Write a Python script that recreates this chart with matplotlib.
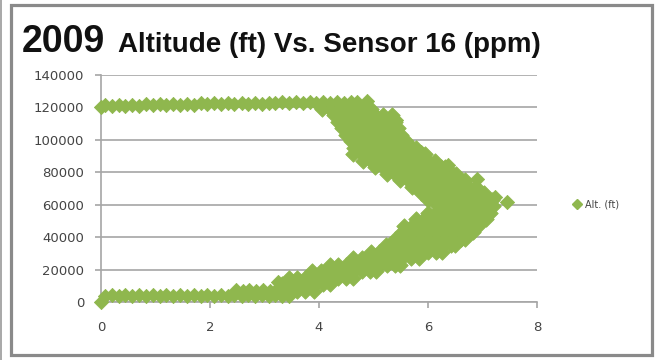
import matplotlib.pyplot as plt
from matplotlib.patches import Rectangle
from matplotlib.lines import Line2D

# sensor 16 (ppm) vs altitude (ft)
# float at the top of the flight
top_ppm = [0.00, 0.08, 0.20, 0.33, 0.45, 0.58, 0.70, 0.83, 0.95, 1.08, 1.20, 1.33, 1.45,
           1.58, 1.70, 1.83, 1.95, 2.08, 2.20, 2.33, 2.45, 2.58, 2.70, 2.83, 2.95, 3.08,
           3.20, 3.33, 3.45, 3.58, 3.70, 3.83, 3.95, 4.08, 4.20, 4.33, 4.45, 4.58, 4.70]
top_alt = [120300, 121400, 120700, 121600, 120900, 121700, 121100, 121800, 121200, 121900,
           121300, 122100, 121500, 122200, 121600, 122400, 121800, 122500, 122000, 122600,
           122100, 122700, 122200, 122800, 122300, 122900, 122400, 123000, 122500, 123100,
           122600, 123100, 122600, 123200, 122700, 123200, 122700, 123300, 123200]

# descent branch, one row of readings per altitude level
descent_alt = [119000, 115000, 111000, 107000, 103000, 99000, 95000, 91000, 87000,
               83000, 79000, 75000, 71000, 67000, 63000, 59000]
descent_ppm = [
    [4.05, 4.20, 4.35, 4.50, 4.65, 4.80, 4.95],
    [4.28, 4.43, 4.58, 4.73, 4.88, 5.03, 5.18, 5.33],
    [4.35, 4.50, 4.65, 4.80, 4.95, 5.10, 5.25, 5.40],
    [4.43, 4.58, 4.73, 4.88, 5.03, 5.18, 5.33, 5.45],
    [4.50, 4.65, 4.80, 4.95, 5.10, 5.25, 5.40, 5.50],
    [4.58, 4.73, 4.88, 5.03, 5.18, 5.33, 5.48, 5.60],
    [4.65, 4.80, 4.95, 5.10, 5.25, 5.40, 5.55, 5.70, 5.78],
    [4.63, 4.78, 4.93, 5.08, 5.23, 5.38, 5.53, 5.68, 5.83, 5.95],
    [4.80, 4.95, 5.10, 5.25, 5.40, 5.55, 5.70, 5.85, 6.00, 6.12],
    [5.03, 5.18, 5.33, 5.48, 5.63, 5.78, 5.93, 6.08, 6.23, 6.32],
    [5.25, 5.40, 5.55, 5.70, 5.85, 6.00, 6.15, 6.30, 6.45, 6.52],
    [5.48, 5.63, 5.78, 5.93, 6.08, 6.23, 6.38, 6.53, 6.68],
    [5.70, 5.85, 6.00, 6.15, 6.30, 6.45, 6.60, 6.75, 6.88],
    [5.88, 6.03, 6.18, 6.33, 6.48, 6.63, 6.78, 6.93, 7.03],
    [6.00, 6.15, 6.30, 6.45, 6.60, 6.75, 6.90, 7.05, 7.18],
    [6.18, 6.33, 6.48, 6.63, 6.78, 6.93, 7.08, 7.20],
]

# ascent branch
ascent_alt = [55000, 51000, 47000, 43000, 39000, 35000, 31000, 27000, 23000, 19000,
              15000, 11000, 7000]
ascent_ppm = [
    [6.00, 6.15, 6.30, 6.45, 6.60, 6.75, 6.90, 7.05, 7.14],
    [5.78, 5.93, 6.08, 6.23, 6.38, 6.53, 6.68, 6.83, 6.98, 7.07],
    [5.55, 5.70, 5.85, 6.00, 6.15, 6.30, 6.45, 6.60, 6.75, 6.92],
    [5.53, 5.68, 5.83, 5.98, 6.13, 6.28, 6.43, 6.58, 6.73, 6.83],
    [5.40, 5.55, 5.70, 5.85, 6.00, 6.15, 6.30, 6.45, 6.60, 6.68],
    [5.23, 5.38, 5.53, 5.68, 5.83, 5.98, 6.13, 6.28, 6.43, 6.50],
    [4.95, 5.10, 5.25, 5.40, 5.55, 5.70, 5.85, 6.00, 6.15, 6.25],
    [4.63, 4.78, 4.93, 5.08, 5.23, 5.38, 5.53, 5.68, 5.83],
    [4.20, 4.35, 4.50, 4.65, 4.80, 4.95, 5.10, 5.25, 5.40, 5.48],
    [3.88, 4.03, 4.18, 4.33, 4.48, 4.63, 4.78, 4.93, 5.05],
    [3.45, 3.60, 3.75, 3.90, 4.05, 4.20, 4.35, 4.50, 4.62],
    [3.33, 3.48, 3.63, 3.78, 3.93, 4.08, 4.20],
    [3.30, 3.45, 3.60, 3.75, 3.90],
]

# near the ground
ground_ppm = [0.00, 0.08, 0.20, 0.33, 0.45, 0.58, 0.70, 0.83, 0.95, 1.08, 1.20, 1.33, 1.45,
              1.58, 1.70, 1.83, 1.95, 2.08, 2.20, 2.33, 2.45, 2.58, 2.70, 2.83, 2.95, 3.08,
              3.20, 3.33, 3.45, 2.48, 2.60, 2.72, 2.85, 2.97, 3.10, 3.22, 3.24]
ground_alt = [0, 3700, 4300, 3700, 4300, 3700, 4300, 3700, 4300, 3700, 4300, 3700, 4300,
              3700, 4300, 3700, 4300, 3700, 4300, 3700, 4300, 3700, 4300, 3700, 4300, 3700,
              4300, 3800, 4000, 7400, 7000, 7600, 7000, 7400, 7000, 7600, 12600]

# scattered readings off the edge of the band
stray_ppm = [4.88, 5.42, 5.88, 6.37, 6.90, 7.45, 7.22]
stray_alt = [123800, 112300, 92200, 84300, 75800, 61500, 64800]

band_x, band_y = [], []
for alt, row in zip(descent_alt, descent_ppm):
    band_x += row
    band_y += [alt] * len(row)
for alt, row in zip(ascent_alt, ascent_ppm):
    band_x += row
    band_y += [alt] * len(row)

green = '#8fb74e'
grey = '#444444'

fig = plt.figure(figsize=(6.55, 3.6), dpi=100)
ax = fig.add_axes([0.154, 0.161, 0.666, 0.631])

ax.scatter(band_x, band_y, marker='D', s=62, color=green, edgecolors=green,
           linewidths=0.6, zorder=3)
ax.scatter(top_ppm + ground_ppm + stray_ppm, top_alt + ground_alt + stray_alt,
           marker='D', s=52, color=green, edgecolors=green, linewidths=0.6,
           zorder=3, clip_on=False)

ax.set_xlim(0, 8)
ax.set_ylim(0, 140000)
ax.set_xticks([0, 2, 4, 6, 8])
ax.set_yticks(range(0, 140001, 20000))
ax.yaxis.grid(True, color='#a6a6a6', linewidth=1.2)
ax.set_axisbelow(True)
for side in ['top', 'right']:
    ax.spines[side].set_visible(False)
for side in ['left', 'bottom']:
    ax.spines[side].set_color('#a6a6a6')
    ax.spines[side].set_linewidth(1.2)
ax.tick_params(axis='both', colors='#a6a6a6', labelcolor=grey, labelsize=9.5, length=4, width=1.2)
ax.tick_params(axis='x', pad=10)
ax.tick_params(axis='y', pad=8)

# legend on the right
handle = Line2D([], [], marker='D', linestyle='none', color=green, markersize=5)
fig.legend([handle], ['Alt. (ft)'], loc='center left', bbox_to_anchor=(0.862, 0.432),
           frameon=False, fontsize=7, handlelength=0.8, handletextpad=0.4,
           labelcolor=grey)

# title
fig.text(0.033, 0.856, '2009', fontsize=27, fontweight='bold', family='Liberation Sans',
         va='baseline', color='#111111')
fig.text(0.180, 0.856, 'Altitude (ft) Vs. Sensor 16 (ppm)', fontsize=20, fontweight='bold',
         family='Liberation Sans', va='baseline', color='#111111')

# chart frame
fig.patches.append(Rectangle((10.5 / 655, 5 / 360), 641 / 655, 350 / 360, transform=fig.transFigure,
                             fill=False, edgecolor='#8a8a8a', linewidth=2.3))
fig.lines.append(Line2D([1 / 655, 1 / 655], [0, 1], transform=fig.transFigure,
                        color='#9a9a9a', linewidth=1.2))

fig.savefig('out.png', dpi=100)
